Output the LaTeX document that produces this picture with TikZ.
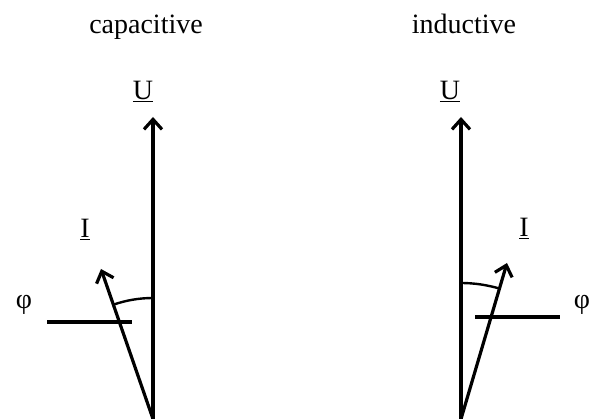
\documentclass[tikz,border=0pt]{standalone}
\usepackage{fontspec}
\setmainfont{Liberation Serif}
\usetikzlibrary{arrows.meta}

\tikzset{
  phasor/.style={->, line width=3.2pt},
  anglearc/.style={line width=2.4pt},
  refline/.style={line width=3.2pt},
  lbl/.style={font=\fontsize{28}{32}\selectfont, inner sep=0pt, anchor=base}
}

\begin{document}
\begin{tikzpicture}[x=1pt, y=1pt, >={Straight Barb[length=10pt,width=18pt]}]
  \useasboundingbox (0,0) rectangle (597,419);

  % capacitive: I leads U
  \node[lbl] (capTitle) at (146,385) {capacitive};
  \coordinate (capO) at (153,0);
  \coordinate (capUtip) at (153,302);
  \coordinate (capItip) at (101,150);
  \node[lbl] (capU) at (143,319) {\underline{U}};
  \node[lbl] (capI) at (85,181) {\underline{I}};
  \node[lbl, anchor=center] (capPhi) at (24,114) {φ};
  \coordinate (capL1) at (47,97);
  \coordinate (capL2) at (132,97);

  \draw[phasor] (capO) -- (capUtip);
  \draw[phasor] (capO) -- (capItip);
  \draw[anglearc] ([yshift=121pt]capO) arc[start angle=90, end angle=109.2, radius=121];
  \draw[refline] (capL1) -- (capL2);

  % inductive: I lags U
  \node[lbl] (indTitle) at (464,385) {inductive};
  \coordinate (indO) at (461,0);
  \coordinate (indUtip) at (461,302);
  \coordinate (indItip) at (507,156);
  \node[lbl] (indU) at (450,319) {\underline{U}};
  \node[lbl] (indI) at (524,182) {\underline{I}};
  \node[lbl, anchor=center] (indPhi) at (582,114) {φ};
  \coordinate (indL1) at (475,102);
  \coordinate (indL2) at (560,102);

  \draw[phasor] (indO) -- (indUtip);
  \draw[phasor] (indO) -- (indItip);
  \draw[anglearc] ([yshift=136pt]indO) arc[start angle=90, end angle=73.6, radius=136];
  \draw[refline] (indL1) -- (indL2);
\end{tikzpicture}
\end{document}
